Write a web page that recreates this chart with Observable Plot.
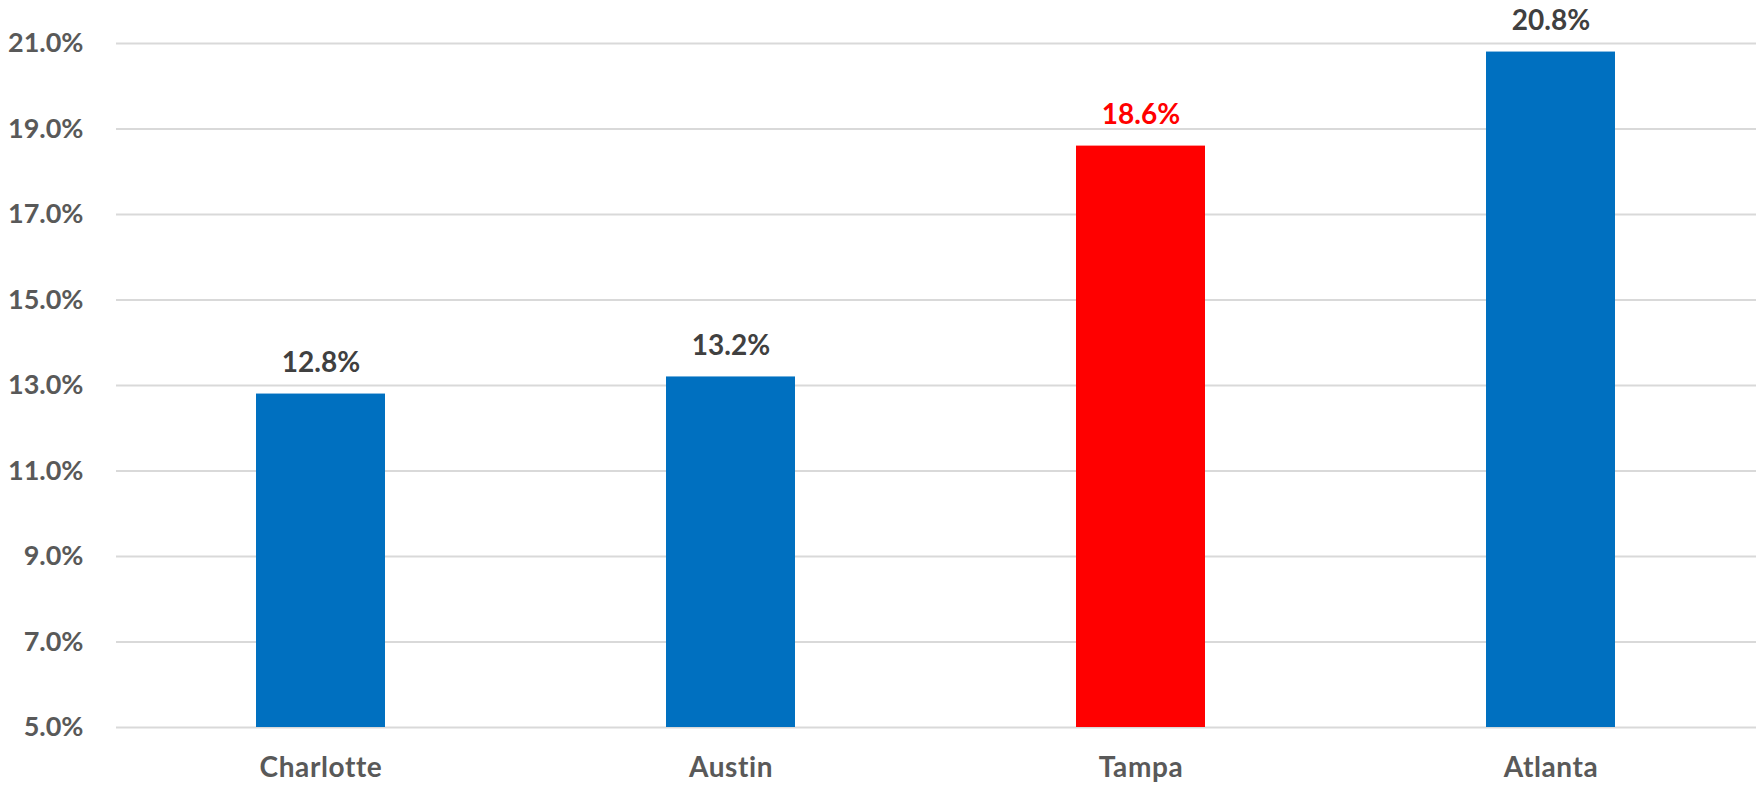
<!DOCTYPE html>
<html>
<head>
<meta charset="utf-8">
<script src="https://cdn.jsdelivr.net/npm/d3@7"></script>
<script src="https://cdn.jsdelivr.net/npm/@observablehq/plot@0.6"></script>
<style>
  html, body { margin: 0; padding: 0; background: #fff; }
  #chart svg { display: block; }
  #chart g[aria-label="x-axis tick label"] text { letter-spacing: 0.6px; }
</style>
</head>
<body>
<div id="chart"></div>
<script>
const cities = ["Charlotte", "Austin", "Tampa", "Atlanta"];
const values = [12.8, 13.2, 18.6, 20.8];
const highlight = "Tampa";
const yTicks = [5, 7, 9, 11, 13, 15, 17, 19, 21];

const data = cities.map((c, i) => ({city: c, value: values[i], hi: c === highlight}));

const FONT = "Lato, 'Open Sans', sans-serif";

const chart = Plot.plot({
  width: 1758,
  height: 788,
  marginLeft: 116,
  marginRight: 2,
  marginTop: 43,
  marginBottom: 61,
  style: {fontFamily: FONT, background: "#fff"},
  x: {domain: cities, paddingInner: 0.685, paddingOuter: 0.3425, align: 0.5},
  y: {domain: [5, 21]},
  marks: [
    Plot.ruleY(yTicks, {stroke: "#D9D9D9", strokeWidth: 2, strokeOpacity: 1}),
    Plot.barY(data, {x: "city", y1: 5, y2: "value", fill: d => d.hi ? "#FF0000" : "#0070C0"}),
    Plot.text(data, {
      x: "city", y: "value",
      text: d => d.value.toFixed(1) + "%",
      dy: -31, lineAnchor: "middle",
      fill: d => d.hi ? "#FF0000" : "#404040",
      fontSize: 28, fontWeight: "bold"
    }),
    Plot.axisY({
      ticks: yTicks, tickSize: 0, tickPadding: 33,
      tickFormat: d => d.toFixed(1) + "%",
      fontSize: 27, fontWeight: "bold", fill: "#595959", label: null
    }),
    Plot.axisX({
      tickSize: 0, tickPadding: 30,
      fontSize: 28, fontWeight: "bold", fill: "#595959", label: null
    })
  ]
});

document.getElementById("chart").appendChild(chart);
</script>
</body>
</html>
